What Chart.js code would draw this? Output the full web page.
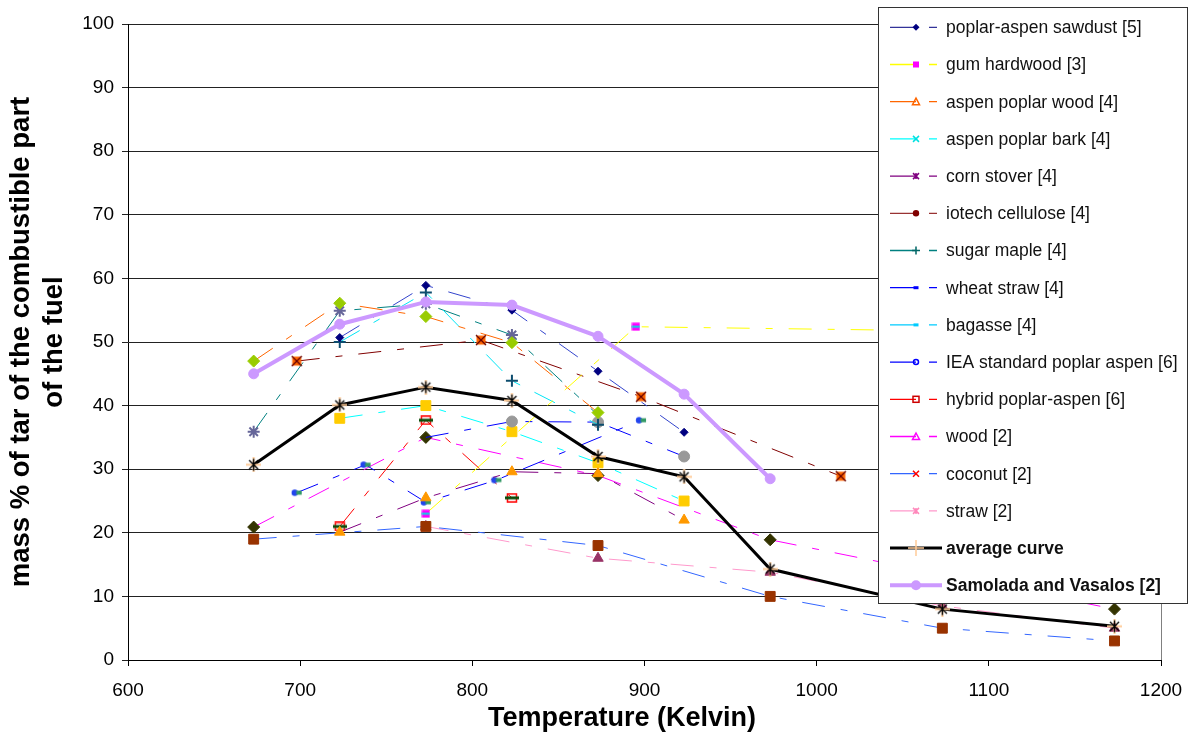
<!DOCTYPE html>
<html lang="en">
<head>
<meta charset="UTF-8">
<title>Tar yield vs temperature</title>
<script src="https://cdn.jsdelivr.net/npm/chart.js"></script>
<style>
  body { margin: 0; background: #fff; }
  #wrap { width: 1192px; height: 736px; }
</style>
</head>
<body>
<div id="wrap"><canvas id="tarChart" width="1192" height="736"></canvas></div>
<script>
// pyrolysis temperature (K) and tar yield (mass % of combustible part) per fuel
const sawdustT = [723, 773, 823, 873, 923];
const sawdustY = [50.7, 58.9, 55.0, 45.4, 35.8];
const gumT = [773, 895, 1173];
const gumY = [23.0, 52.4, 51.4];
const aspenWoodT = [673, 723, 773, 823, 873];
const aspenWoodY = [47.0, 56.1, 54.0, 49.9, 38.9];
const aspenBarkT = [723, 773, 823, 873];
const aspenBarkY = [50.0, 57.8, 43.9, 37.0];
const cornT = [723, 773, 823, 873, 923];
const cornY = [20.1, 25.5, 29.6, 29.3, 22.0];
const iotechT = [698, 805, 898, 1014];
const iotechY = [47.0, 50.3, 41.4, 28.9];
const mapleT = [673, 723, 773, 823, 873];
const mapleY = [35.9, 54.9, 56.0, 51.1, 38.5];
const wheatT = [773, 823, 873, 923];
const wheatY = [35.0, 37.5, 37.4, 32.0];
const bagasseT = [723, 773, 823, 873, 923];
const bagasseY = [38.0, 40.0, 35.9, 31.0, 25.0];
const ieaT = [698, 738, 773, 814, 898];
const ieaY = [26.3, 30.7, 24.8, 28.3, 37.7];
const hybridT = [723, 773, 823];
const hybridY = [21.0, 37.7, 25.5];
const woodT = [673, 773, 873, 973, 1173];
const woodY = [20.9, 35.0, 29.0, 18.9, 8.0];
const coconutT = [673, 773, 873, 973, 1073, 1173];
const coconutY = [19.0, 21.0, 18.0, 10.0, 5.0, 3.0];
const strawT = [773, 873, 973, 1073, 1173];
const strawY = [21.0, 16.0, 13.8, 8.5, 5.0];
const averageT = [673, 723, 773, 823, 873, 923, 973, 1073, 1173];
const averageY = [30.7, 40.1, 42.9, 40.8, 32.0, 28.8, 14.3, 8.0, 5.3];
const samoladaT = [673, 723, 773, 823, 873, 923, 973];
const samoladaY = [45.0, 52.8, 56.3, 55.8, 50.9, 41.8, 28.5];

const xTicks = [600, 700, 800, 900, 1000, 1100, 1200];
const FONT = "'Liberation Sans', Arial, sans-serif";
const DASH = [23, 16, 7, 16];

function pts(xs, ys) {
    return xs.map((x, i) => ({ x: x, y: ys[i] }));
}

// small canvases for the combined markers
function mark(w, h, draw) {
    const c = document.createElement('canvas');
    c.width = w;
    c.height = h;
    draw(c.getContext('2d'));
    return c;
}
const avgMark = mark(15, 15, g => {
    g.strokeStyle = '#ffcc99';
    g.lineWidth = 2;
    g.beginPath();
    g.moveTo(7.5, 0); g.lineTo(7.5, 15);
    g.moveTo(0, 7.5); g.lineTo(15, 7.5);
    g.stroke();
    g.strokeStyle = '#000';
    g.lineWidth = 1.4;
    g.beginPath();
    g.moveTo(3, 3); g.lineTo(12, 12);
    g.moveTo(12, 3); g.lineTo(3, 12);
    g.moveTo(7.5, 1.5); g.lineTo(7.5, 13.5);
    g.stroke();
});
const iotechMark = mark(12, 12, g => {
    g.fillStyle = '#ff6600';
    g.fillRect(1.5, 1.5, 9, 9);
    g.strokeStyle = '#660000';
    g.lineWidth = 1.3;
    g.beginPath();
    g.moveTo(1, 1); g.lineTo(11, 11);
    g.moveTo(11, 1); g.lineTo(1, 11);
    g.stroke();
});
const hybridMark = mark(14, 10, g => {
    g.strokeStyle = '#ff0000';
    g.lineWidth = 1.5;
    g.strokeRect(2.5, 1, 9, 8);
    g.fillStyle = '#0b4d0b';
    g.fillRect(0, 3.5, 14, 3);
});
const ieaMark = mark(12, 9, g => {
    g.fillStyle = '#2244ee';
    g.beginPath();
    g.arc(4, 4.5, 3.2, 0, Math.PI * 2);
    g.fill();
    g.fillStyle = '#339966';
    g.fillRect(5.5, 2.5, 5.5, 4);
});
const gumMark = mark(9, 9, g => {
    g.fillStyle = '#ff00ff';
    g.fillRect(0.5, 0.5, 8, 8);
    g.fillStyle = '#00e0e0';
    g.fillRect(0.5, 3.5, 8, 2);
});

function line(label, xs, ys, color, style, o) {
    return Object.assign({
        label: label,
        data: pts(xs, ys),
        borderColor: color,
        borderWidth: 1,
        borderDash: DASH,
        pointStyle: style,
        pointRadius: 5,
        pointBorderWidth: 1,
        fill: false,
        tension: 0
    }, o);
}

const datasets = [
    line('poplar-aspen sawdust [5]', sawdustT, sawdustY, '#3344cc', 'rectRot',
        { pointRadius: 4, pointBackgroundColor: '#000080', pointBorderColor: '#000080',
          legend: { line: '#333399', mark: 'diamond', color: '#000080' } }),
    line('gum hardwood [3]', gumT, gumY, '#ffff00', gumMark,
        { legend: { line: '#ffff00', mark: 'square', color: '#ff00ff' } }),
    line('aspen poplar wood [4]', aspenWoodT, aspenWoodY, '#ff6600', 'rectRot',
        { pointRadius: 6, pointBackgroundColor: '#99cc00', pointBorderColor: '#99cc00',
          legend: { line: '#ff6600', mark: 'triangleOpen', color: '#ff6600' } }),
    line('aspen poplar bark [4]', aspenBarkT, aspenBarkY, '#00e5f5', 'cross',
        { pointRadius: 6, pointBorderWidth: 2, pointBorderColor: '#0d4d6e',
          legend: { line: '#00ffff', mark: 'x', color: '#00e0e0' } }),
    line('corn stover [4]', cornT, cornY, '#800080', 'triangle',
        { pointRadius: 6, pointBackgroundColor: '#ff9900', pointBorderColor: '#ff9900',
          legend: { line: '#800080', mark: 'asterisk', color: '#800080' } }),
    line('iotech cellulose [4]', iotechT, iotechY, '#800000', iotechMark,
        { legend: { line: '#993333', mark: 'dot', color: '#800000' } }),
    line('sugar maple [4]', mapleT, mapleY, '#008080', 'star',
        { pointRadius: [6, 6, 6, 6, 0], pointBorderWidth: 2, pointBorderColor: '#666699',
          legend: { line: '#008080', mark: 'plus', color: '#006666' } }),
    line('wheat straw [4]', wheatT, wheatY, '#0000ff', 'circle',
        { pointRadius: [0, 5.5, 5.5, 5.5], pointBackgroundColor: '#999999', pointBorderColor: '#999999',
          legend: { line: '#0000ff', mark: 'dash', color: '#0000ff' } }),
    line('bagasse [4]', bagasseT, bagasseY, '#00ffff', 'rect',
        { pointRadius: 7, pointBackgroundColor: '#ffcc00', pointBorderColor: '#ffcc00',
          legend: { line: '#00ccff', mark: 'dash', color: '#00ccff' } }),
    line('IEA standard poplar aspen [6]', ieaT, ieaY, '#0000ff', ieaMark,
        { legend: { line: '#0000ff', mark: 'circleOpen', color: '#0000ff' } }),
    line('hybrid poplar-aspen [6]', hybridT, hybridY, '#ff0000', hybridMark,
        { legend: { line: '#ff0000', mark: 'squareOpen', color: '#cc0000' } }),
    line('wood [2]', woodT, woodY, '#ff00ff', 'rectRot',
        { pointRadius: 6, pointBackgroundColor: '#333300', pointBorderColor: '#333300',
          legend: { line: '#ff00ff', mark: 'triangleOpen', color: '#ff00ff' } }),
    line('coconut [2]', coconutT, coconutY, '#3366ff', 'rect',
        { pointRadius: 7, pointBackgroundColor: '#993300', pointBorderColor: '#993300',
          legend: { line: '#3366ff', mark: 'x', color: '#ff0000' } }),
    line('straw [2]', strawT, strawY, '#ff99cc', 'triangle',
        { pointRadius: 6, pointBackgroundColor: '#993366', pointBorderColor: '#993366',
          legend: { line: '#ff99cc', mark: 'asterisk', color: '#ff88bb' } }),
    line('average curve', averageT, averageY, '#000000', avgMark,
        { borderWidth: 3, borderDash: [], order: -1,
          legend: { line: '#000000', mark: 'plus', color: '#ffcc99', bold: true, width: 3 } }),
    line('Samolada and Vasalos [2]', samoladaT, samoladaY, '#cc99ff', 'circle',
        { borderWidth: 4, borderDash: [], order: -2, pointRadius: 5,
          pointBackgroundColor: '#cc99ff', pointBorderColor: '#cc99ff',
          legend: { line: '#cc99ff', mark: 'dotBig', color: '#cc99ff', bold: true, width: 4 } })
];

function legendMark(ctx, kind, color, x, y) {
    ctx.save();
    ctx.fillStyle = color;
    ctx.strokeStyle = color;
    ctx.lineWidth = 1.5;
    ctx.beginPath();
    if (kind === 'diamond') {
        ctx.moveTo(x, y - 3.5); ctx.lineTo(x + 3.5, y); ctx.lineTo(x, y + 3.5); ctx.lineTo(x - 3.5, y);
        ctx.closePath(); ctx.fill();
    } else if (kind === 'square') {
        ctx.fillRect(x - 3, y - 3, 6, 6);
    } else if (kind === 'triangleOpen') {
        ctx.moveTo(x, y - 3.5); ctx.lineTo(x + 3.5, y + 3); ctx.lineTo(x - 3.5, y + 3);
        ctx.closePath(); ctx.stroke();
    } else if (kind === 'x') {
        ctx.moveTo(x - 3, y - 3); ctx.lineTo(x + 3, y + 3);
        ctx.moveTo(x + 3, y - 3); ctx.lineTo(x - 3, y + 3); ctx.stroke();
    } else if (kind === 'asterisk') {
        ctx.moveTo(x - 3, y - 3); ctx.lineTo(x + 3, y + 3);
        ctx.moveTo(x + 3, y - 3); ctx.lineTo(x - 3, y + 3);
        ctx.moveTo(x, y - 3); ctx.lineTo(x, y + 3); ctx.stroke();
    } else if (kind === 'dot') {
        ctx.arc(x, y, 3.2, 0, Math.PI * 2); ctx.fill();
    } else if (kind === 'dotBig') {
        ctx.arc(x, y, 5, 0, Math.PI * 2); ctx.fill();
    } else if (kind === 'plus') {
        const r = color === '#ffcc99' ? 8 : 4;
        ctx.moveTo(x - r, y); ctx.lineTo(x + r, y);
        ctx.moveTo(x, y - r); ctx.lineTo(x, y + r); ctx.stroke();
    } else if (kind === 'dash') {
        ctx.fillRect(x - 2.5, y - 1.5, 5, 3);
    } else if (kind === 'circleOpen') {
        ctx.arc(x, y, 2.5, 0, Math.PI * 2); ctx.stroke();
    } else if (kind === 'squareOpen') {
        ctx.strokeRect(x - 3, y - 3, 6, 6);
    }
    ctx.restore();
}

// legend panel, axis titles and the right frame line
const decorations = {
    id: 'decorations',
    afterDraw(chart) {
        const ctx = chart.ctx;
        const area = chart.chartArea;
        ctx.save();

        ctx.strokeStyle = '#808080';
        ctx.lineWidth = 1;
        ctx.beginPath();
        ctx.moveTo(Math.round(area.right) + 0.5, area.top);
        ctx.lineTo(Math.round(area.right) + 0.5, area.bottom);
        ctx.stroke();

        ctx.fillStyle = '#000';
        ctx.textAlign = 'center';
        ctx.textBaseline = 'alphabetic';
        ctx.font = 'bold 27px ' + FONT;
        ctx.fillText('Temperature (Kelvin)', 622, 726);

        ctx.save();
        ctx.font = 'bold 27.5px ' + FONT;
        ctx.translate(29, 342);
        ctx.rotate(-Math.PI / 2);
        ctx.fillText('mass % of tar of the combustible part', 0, 0);
        ctx.fillText('of the fuel', 0, 33);
        ctx.restore();

        ctx.fillStyle = '#fff';
        ctx.fillRect(878.5, 7.5, 309, 596);
        ctx.strokeStyle = '#333';
        ctx.strokeRect(878.5, 7.5, 309, 596);

        chart.data.datasets.forEach((ds, i) => {
            const lg = ds.legend;
            const y = 27.3 + i * 37.2;
            ctx.strokeStyle = lg.line;
            ctx.lineWidth = lg.width || 1.3;
            ctx.setLineDash([]);
            ctx.beginPath();
            if (lg.bold) {
                ctx.moveTo(890, y); ctx.lineTo(942, y);
            } else {
                ctx.moveTo(890, y); ctx.lineTo(916, y);
                ctx.moveTo(929, y); ctx.lineTo(937, y);
            }
            ctx.stroke();
            legendMark(ctx, lg.mark, lg.color, 916, y);
            ctx.fillStyle = '#111';
            ctx.font = (lg.bold ? 'bold ' : '') + '17.5px ' + FONT;
            ctx.textAlign = 'left';
            ctx.textBaseline = 'middle';
            ctx.fillText(ds.label, 946, y + 1);
        });
        ctx.restore();
    }
};

new Chart(document.getElementById('tarChart'), {
    type: 'line',
    data: { datasets: datasets },
    plugins: [decorations],
    options: {
        responsive: false,
        devicePixelRatio: 1,
        animation: false,
        layout: { padding: { top: 24, right: 31, left: 0, bottom: 0 } },
        plugins: {
            legend: { display: false },
            tooltip: { enabled: false }
        },
        scales: {
            x: {
                type: 'linear',
                min: 600,
                max: 1200,
                afterFit(scale) {
                    scale.height = 76;
                    scale.paddingLeft = 0;
                    scale.paddingRight = 0;
                },
                afterBuildTicks(scale) { scale.ticks = xTicks.map(v => ({ value: v })); },
                grid: { drawOnChartArea: false, drawTicks: true, tickLength: 6, color: '#000' },
                border: { color: '#000', width: 1 },
                ticks: {
                    color: '#000',
                    padding: 13,
                    font: { family: FONT, size: 19 },
                    callback: v => String(v)
                }
            },
            y: {
                min: 0,
                max: 100,
                afterFit(scale) { scale.width = 128; },
                grid: { color: '#222', tickLength: 6 },
                border: { color: '#000', width: 1 },
                ticks: { stepSize: 10, color: '#000', padding: 8, font: { family: FONT, size: 19 } }
            }
        }
    }
});
</script>
</body>
</html>
